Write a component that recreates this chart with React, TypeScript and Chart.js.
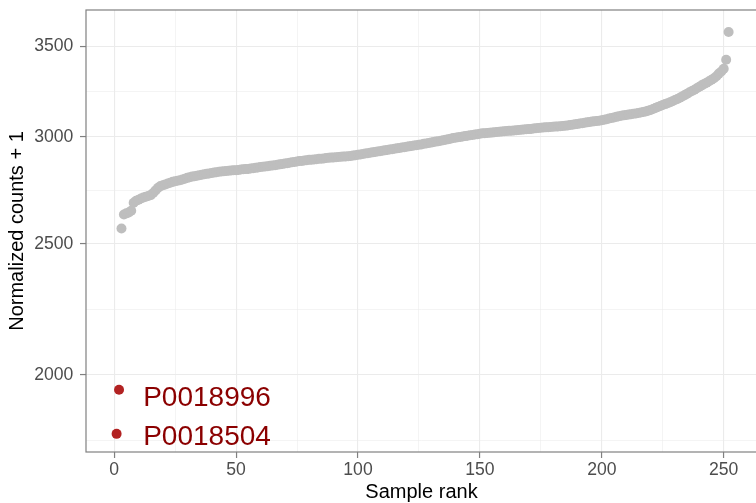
import React, { useEffect, useRef } from "react";
import { Chart, registerables } from "chart.js";

Chart.register(...registerables);

// ---- data ----
const greyStartRank = 3;
const greyValues = [
  2566, 2628, 2633, 2637, 2645, 2681, 2690, 2695, 2700, 2705,
  2709, 2712, 2716, 2726, 2738, 2750, 2758, 2762, 2766, 2770,
  2774, 2778, 2781, 2783, 2786, 2789, 2793, 2797, 2800, 2803,
  2805, 2807, 2810, 2812, 2814, 2816, 2818, 2820, 2822, 2824,
  2826, 2827, 2829, 2830, 2831, 2832, 2833, 2834, 2835, 2837,
  2838, 2839, 2840, 2842, 2843, 2845, 2847, 2849, 2850, 2852,
  2853, 2855, 2856, 2858, 2860, 2862, 2864, 2866, 2868, 2870,
  2872, 2874, 2876, 2878, 2879, 2881, 2882, 2884, 2885, 2886,
  2887, 2889, 2890, 2891, 2893, 2894, 2895, 2896, 2897, 2898,
  2899, 2900, 2901, 2902, 2903, 2905, 2907, 2909, 2911, 2913,
  2915, 2917, 2919, 2921, 2923, 2925, 2927, 2929, 2931, 2933,
  2935, 2937, 2939, 2941, 2943, 2945, 2947, 2949, 2951, 2953,
  2955, 2957, 2959, 2961, 2964, 2966, 2968, 2970, 2973, 2975,
  2977, 2979, 2982, 2985, 2987, 2990, 2993, 2995, 2997, 2999,
  3001, 3003, 3005, 3007, 3009, 3011, 3013, 3015, 3017, 3018,
  3019, 3020, 3021, 3023, 3024, 3025, 3027, 3028, 3029, 3030,
  3031, 3032, 3033, 3034, 3036, 3037, 3038, 3039, 3040, 3042,
  3044, 3045, 3046, 3047, 3048, 3049, 3050, 3051, 3052, 3053,
  3054, 3055, 3056, 3058, 3060, 3062, 3064, 3066, 3068, 3070,
  3072, 3074, 3076, 3078, 3080, 3081, 3083, 3085, 3088, 3091,
  3094, 3097, 3100, 3103, 3106, 3109, 3111, 3113, 3115, 3117,
  3119, 3121, 3123, 3126, 3129, 3132, 3136, 3140, 3145, 3150,
  3156, 3161, 3166, 3171, 3176, 3181, 3187, 3193, 3199, 3206,
  3213, 3220, 3228, 3236, 3243, 3250, 3258, 3266, 3274, 3282,
  3289, 3297, 3305, 3314, 3325, 3340, 3352, 3368, 3420, 3585,
];
const highlightRanks = [1, 2];
const highlightValues = [1809, 1950];
const highlightNames = ["P0018504", "P0018996"];
const labelRanks = [11.9, 11.9];
const labelValues = [1800, 1923];

const xMajorTicks = [0, 50, 100, 150, 200, 250];
const xMinorTicks = [25, 75, 125, 175, 225];
const yMajorTicks = [2000, 2500, 3000, 3500];
const yMinorTicks = [1789, 2236, 2739, 3240];
const xLimits = [-11.55, 263.65];
const yLimits = [1754, 3722];

const xTitle = "Sample rank";
const yTitle = "Normalized counts + 1";

const FONT = '"Liberation Sans", Arial, Helvetica, sans-serif';
const GRID = "#EBEBEB";
const AXIS = "#808080";

const panelPlugin = {
  id: "panelAndLabels",
  afterDatasetsDraw(chart: any) {
    const { ctx, chartArea, scales } = chart;
    const x = scales.x;
    const y = scales.y;
    ctx.save();
    ctx.font = `28px ${FONT}`;
    ctx.fillStyle = "#8B0000";
    ctx.textAlign = "left";
    ctx.textBaseline = "middle";
    highlightNames.forEach((name, i) => {
      ctx.fillText(name, x.getPixelForValue(labelRanks[i]), y.getPixelForValue(labelValues[i]));
    });
    ctx.strokeStyle = AXIS;
    ctx.lineWidth = 1.2;
    ctx.strokeRect(chartArea.left, chartArea.top, chartArea.right - chartArea.left, chartArea.bottom - chartArea.top);
    ctx.restore();
  },
};

function zeroPadding(scale: any) {
  scale.paddingTop = 0;
  scale.paddingBottom = 0;
  scale.paddingLeft = 0;
  scale.paddingRight = 0;
}

export default function App() {
  const ref = useRef<HTMLCanvasElement | null>(null);

  useEffect(() => {
    if (!ref.current) return;
    const greyPoints = greyValues.map((v, i) => ({ x: greyStartRank + i, y: v }));
    const redPoints = highlightValues.map((v, i) => ({ x: highlightRanks[i], y: v }));
    const xTicks = [...xMajorTicks, ...xMinorTicks].sort((a, b) => a - b);
    const yTicks = [...yMajorTicks, ...yMinorTicks].sort((a, b) => a - b);

    const chart = new Chart(ref.current, {
      type: "scatter",
      data: {
        datasets: [
          {
            data: greyPoints,
            backgroundColor: "#BEBEBE",
            borderWidth: 0,
            pointRadius: 5,
          },
          {
            data: redPoints,
            backgroundColor: "#B22222",
            borderWidth: 0,
            pointRadius: 5,
          },
        ],
      },
      options: {
        responsive: false,
        maintainAspectRatio: false,
        animation: false,
        events: [],
        layout: { padding: { left: 0, top: 10, right: 0.5, bottom: 0 } },
        plugins: {
          legend: { display: false },
          tooltip: { enabled: false },
        },
        scales: {
          x: {
            type: "linear",
            min: xLimits[0],
            max: xLimits[1],
            bounds: "data",
            afterBuildTicks: (scale: any) => {
              scale.ticks = xTicks.map((v) => ({ value: v }));
            },
            afterFit: (scale: any) => {
              scale.height = 51;
              zeroPadding(scale);
            },
            ticks: {
              autoSkip: false,
              maxRotation: 0,
              padding: 1.4,
              color: "#4D4D4D",
              font: { family: FONT, size: 17.6 },
              callback: (v: any) => (xMajorTicks.includes(Number(v)) ? String(v) : ""),
            },
            grid: {
              color: (c: any) => GRID,
              lineWidth: (c: any) => (c.tick && xMajorTicks.includes(c.tick.value) ? 1.1 : 0.55),
              tickLength: 6,
              tickColor: (c: any) => (c.tick && xMajorTicks.includes(c.tick.value) ? AXIS : "rgba(0,0,0,0)"),
              tickWidth: 1.2,
            },
            border: { display: false },
            title: {
              display: true,
              text: xTitle,
              color: "#000000",
              font: { family: FONT, size: 20, lineHeight: 1.1 },
              padding: { top: 0, bottom: 0 },
            },
          },
          y: {
            type: "logarithmic",
            min: yLimits[0],
            max: yLimits[1],
            bounds: "data",
            afterBuildTicks: (scale: any) => {
              scale.ticks = yTicks.map((v) => ({ value: v }));
            },
            afterFit: (scale: any) => {
              scale.width = 86;
              zeroPadding(scale);
            },
            ticks: {
              autoSkip: false,
              padding: 6.7,
              color: "#4D4D4D",
              font: { family: FONT, size: 17.6 },
              callback: (v: any) => (yMajorTicks.includes(Number(v)) ? String(v) : ""),
            },
            grid: {
              color: (c: any) => GRID,
              lineWidth: (c: any) => (c.tick && yMajorTicks.includes(c.tick.value) ? 1.1 : 0.55),
              tickLength: 6,
              tickColor: (c: any) => (c.tick && yMajorTicks.includes(c.tick.value) ? AXIS : "rgba(0,0,0,0)"),
              tickWidth: 1.2,
            },
            border: { display: false },
            title: {
              display: true,
              text: yTitle,
              color: "#000000",
              font: { family: FONT, size: 20, lineHeight: 1.2 },
              padding: { top: 5.5, bottom: 0 },
            },
          },
        },
      },
      plugins: [panelPlugin],
    } as any);

    return () => chart.destroy();
  }, []);

  return (
    <div
      style={{
        position: "fixed",
        left: 0,
        top: 0,
        width: 756,
        height: 503,
        overflow: "hidden",
        background: "#ffffff",
      }}
    >
      <canvas ref={ref} width={762} height={503} style={{ display: "block" }} />
    </div>
  );
}
